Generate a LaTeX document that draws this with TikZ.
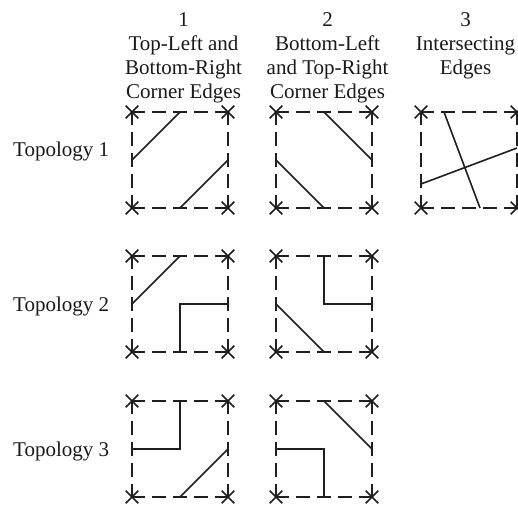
\documentclass[tikz,border=0pt]{standalone}
\usepackage{fontspec}
\setmainfont{Liberation Serif}
\usetikzlibrary{shapes.misc}
\newcommand\drawcell[3]{%
  \begin{scope}[shift={(#2,#3)}]
    \node[crs] (#1-tl) at (0,0) {};
    \node[crs] (#1-tr) at (96,0) {};
    \node[crs] (#1-bl) at (0,96) {};
    \node[crs] (#1-br) at (96,96) {};
    \coordinate (#1-t) at (48,0);
    \coordinate (#1-b) at (48,96);
    \coordinate (#1-l) at (0,48);
    \coordinate (#1-r) at (96,48);
    \coordinate (#1-c) at (48,48);
    \draw[dashedge] (#1-tl.center) -- (#1-tr.center);
    \draw[dashedge] (#1-bl.center) -- (#1-br.center);
    \draw[dashedge] (#1-tl.center) -- (#1-bl.center);
    \draw[dashedge] (#1-tr.center) -- (#1-br.center);
  \end{scope}}
\begin{document}
\begin{tikzpicture}[x=1pt,y=-1pt,
  lbl/.style={font=\fontsize{21}{24}\selectfont, inner sep=0pt, text=black!90},
  dashedge/.style={line width=1.6pt, black!88, dash pattern=on 14pt off 7pt, dash phase=1pt},
  seg/.style={line width=1.6pt, black!88},
  crs/.style={cross out, draw=black!88, line width=1.6pt, minimum size=11pt, inner sep=0pt}]
\useasboundingbox (0,0) rectangle (518,505);
% column headers
\node[lbl, align=center, anchor=north] (h1) at (183.5,12) {1\\Top-Left and\\Bottom-Right\\Corner Edges};
\node[lbl, align=center, anchor=north] (h2) at (327.5,12) {2\\Bottom-Left\\and Top-Right\\Corner Edges};
\node[lbl, align=center, anchor=north] (h3) at (465.5,12) {3\\Intersecting\\Edges};
% row labels
\node[lbl, anchor=base west] (t1) at (13,156.5) {Topology 1};
\node[lbl, anchor=base west] (t2) at (13,311) {Topology 2};
\node[lbl, anchor=base west] (t3) at (13,456) {Topology 3};
% cells
\drawcell{A}{132}{112}
\drawcell{B}{276}{112}
\drawcell{C}{421}{112}
\drawcell{D}{132}{256}
\drawcell{E}{276}{256}
\drawcell{F}{132}{401}
\drawcell{G}{276}{401}
% intersecting edge end points
\coordinate (C-t1) at (444,112);
\coordinate (C-b1) at (480,208);
\coordinate (C-l1) at (421,184);
\coordinate (C-r1) at (517,148);
% solid edges
\draw[seg] (A-l) -- (A-t);
\draw[seg] (A-b) -- (A-r);
\draw[seg] (B-l) -- (B-b);
\draw[seg] (B-t) -- (B-r);
\draw[seg] (C-t1) -- (C-b1);
\draw[seg] (C-l1) -- (C-r1);
\draw[seg] (D-l) -- (D-t);
\draw[seg] (D-b) -- (D-c) -- (D-r);
\draw[seg] (E-l) -- (E-b);
\draw[seg] (E-t) -- (E-c) -- (E-r);
\draw[seg] (F-l) -- (F-c) -- (F-t);
\draw[seg] (F-b) -- (F-r);
\draw[seg] (G-l) -- (G-c) -- (G-b);
\draw[seg] (G-t) -- (G-r);
\end{tikzpicture}
\end{document}
